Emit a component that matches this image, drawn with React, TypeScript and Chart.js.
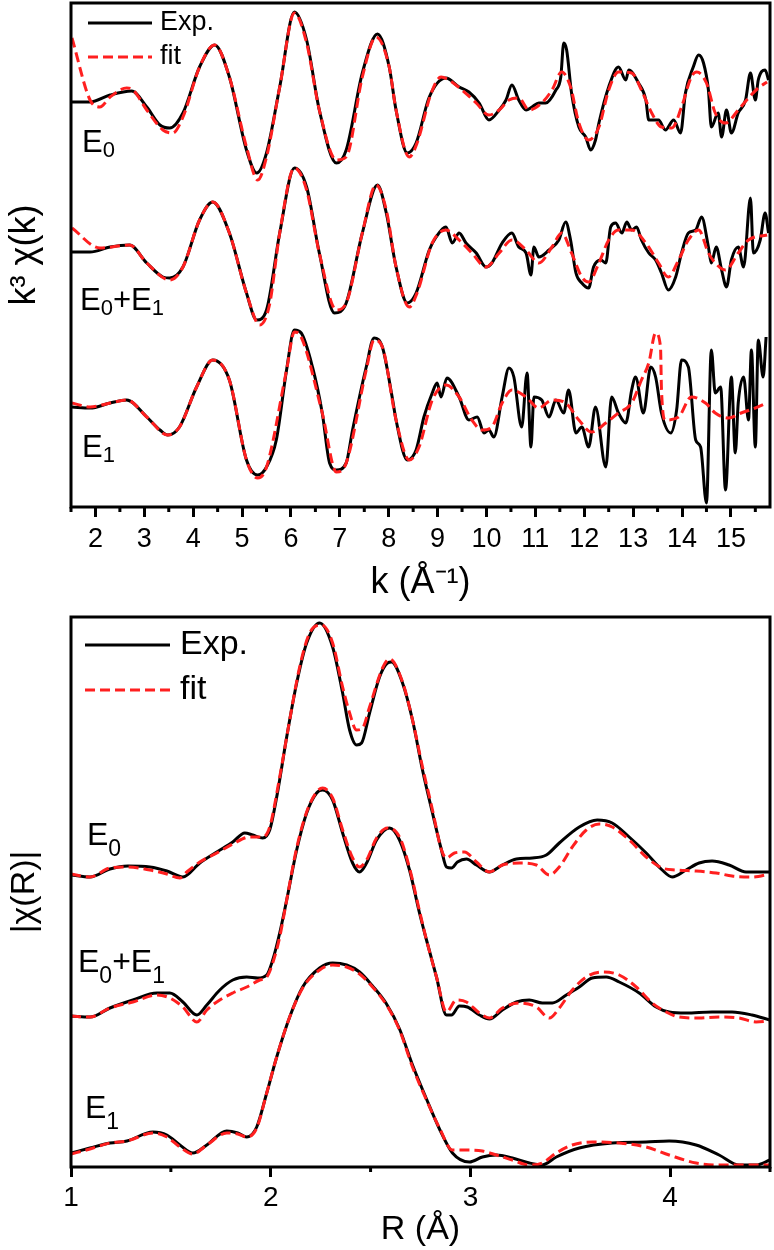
import React, { useEffect, useRef } from "react";
import { Chart, registerables } from "chart.js";

Chart.register(...registerables);

const FONT = "'Liberation Sans', Arial, Helvetica, sans-serif";
const BLACK = "#000000";
const RED = "#ff1f1f";
const SERIES_NAMES = ["Exp.", "fit"];

// ---------------- top panel: k^3 chi(k) ----------------
const K_MIN = 1.5;
const K_MAX = 15.8;
const K_TICKS = [2, 3, 4, 5, 6, 7, 8, 9, 10, 11, 12, 13, 14, 15];
const K_MINOR_TICKS = [1.5, 2.5, 3.5, 4.5, 5.5, 6.5, 7.5, 8.5, 9.5, 10.5, 11.5, 12.5, 13.5, 14.5, 15.5];
const K_Y_MAX = 504;
const K_OFF_E0 = 405;
const K_OFF_E01 = 255;
const K_OFF_E1 = 100;

const K_E0_EXP = [1.5, 1.89, 2.3, 2.74, 3.05, 3.32, 3.52, 3.79, 4.13, 4.44, 4.74, 5.09, 5.3, 5.5, 5.77, 6.07, 6.32, 6.58, 6.93, 7.13, 7.46, 7.77, 8.01, 8.15, 8.38, 8.56, 8.83, 9.17, 9.44, 9.64, 9.85, 10.05, 10.26, 10.4, 10.52, 10.66, 10.81, 10.93, 11.07, 11.21, 11.42, 11.52, 11.58, 11.64, 11.74, 11.89, 12.03, 12.13, 12.23, 12.3, 12.5, 12.7, 12.85, 12.91, 13.11, 13.26, 13.32, 13.52, 13.66, 13.83, 13.97, 14.07, 14.23, 14.34, 14.44, 14.54, 14.6, 14.74, 14.81, 14.91, 15.01, 15.15, 15.3, 15.4, 15.5, 15.56, 15.7, 15.77];
const V_E0_EXP = [0, 0, 7, 11, -5, -23, -26, -11, 35, 57, 25, -48, -71, -51, 15, 90, 62, -8, -61, -48, 29, 68, 35, -8, -51, -41, 5, 24, 15, 10, -1, -18, -8, 2, 17, 2, -8, -5, -1, -1, 12, 25, 59, 52, 9, -25, -35, -48, -38, -21, 15, 35, 22, 32, 19, 2, -18, -18, -28, -18, -31, 9, 35, 47, 39, 12, -25, -11, -35, -8, -31, -11, 2, 29, 2, 22, 32, 22];
const K_E0_FIT = [1.52, 1.89, 2.09, 2.3, 2.64, 2.77, 3.05, 3.38, 3.58, 3.79, 4.13, 4.44, 4.74, 5.09, 5.32, 5.5, 5.77, 6.07, 6.32, 6.58, 6.93, 7.13, 7.46, 7.74, 8.01, 8.15, 8.42, 8.58, 8.87, 9.07, 9.23, 9.5, 9.79, 10.05, 10.26, 10.46, 10.66, 10.87, 11.13, 11.34, 11.54, 11.72, 11.89, 12.09, 12.3, 12.5, 12.7, 12.97, 13.17, 13.38, 13.58, 13.79, 13.99, 14.19, 14.3, 14.5, 14.68, 14.89, 15.15, 15.36, 15.56, 15.74];
const V_E0_FIT = [64, 2, -5, 5, 14, 12, -8, -28, -31, -15, 35, 57, 25, -45, -78, -55, 15, 89, 59, -8, -58, -55, 25, 65, 35, -8, -55, -41, 9, 25, 22, 12, -1, -13, -8, 2, 4, -8, -1, 12, 30, 15, -21, -38, -25, 12, 30, 29, 12, -11, -25, -26, -5, 25, 30, 19, -11, -21, -8, 4, 14, 20];

const K_E01_EXP = [1.5, 1.89, 2.3, 2.7, 3.05, 3.38, 3.52, 3.79, 4.13, 4.4, 4.74, 5.09, 5.3, 5.5, 5.77, 6.07, 6.32, 6.58, 6.89, 7.13, 7.46, 7.77, 7.95, 8.15, 8.38, 8.56, 8.83, 8.97, 9.17, 9.3, 9.44, 9.58, 9.79, 9.99, 10.11, 10.32, 10.52, 10.66, 10.81, 10.91, 10.97, 11.07, 11.28, 11.48, 11.62, 11.72, 11.83, 11.95, 12.09, 12.19, 12.34, 12.44, 12.54, 12.64, 12.77, 12.87, 12.97, 13.07, 13.17, 13.32, 13.46, 13.58, 13.72, 13.87, 13.99, 14.13, 14.28, 14.4, 14.54, 14.6, 14.7, 14.81, 14.91, 15.01, 15.15, 15.26, 15.4, 15.46, 15.6, 15.7, 15.77];
const V_E01_EXP = [0, 0, 5, 7, -11, -25, -26, -15, 32, 50, 19, -41, -68, -58, 19, 84, 65, -1, -61, -51, 19, 67, 39, -15, -51, -41, 2, 15, 25, 9, 19, 9, -1, -15, -11, 9, 19, 5, -1, -23, 5, -5, 2, 12, 30, 12, -21, -31, -36, -15, -8, -11, 25, 29, 19, 30, 22, 25, 12, -1, -8, -21, -38, -25, -1, 19, 22, 35, 5, -11, 5, -18, -35, -8, 5, -15, 54, -1, 12, 39, 19];
const K_E01_FIT = [1.52, 2.09, 2.7, 3.05, 3.52, 3.79, 4.13, 4.4, 4.74, 5.09, 5.36, 5.56, 5.77, 6.07, 6.32, 6.58, 6.93, 7.13, 7.46, 7.74, 7.95, 8.15, 8.42, 8.58, 8.89, 9.17, 9.44, 9.7, 9.99, 10.26, 10.52, 10.81, 11.07, 11.34, 11.54, 11.74, 11.95, 12.09, 12.3, 12.5, 12.7, 12.97, 13.26, 13.52, 13.72, 13.93, 14.13, 14.34, 14.54, 14.68, 14.89, 15.15, 15.36, 15.74];
const V_E01_FIT = [24, 4, 7, -11, -28, -15, 32, 50, 19, -41, -73, -53, 19, 84, 62, -1, -58, -51, 19, 67, 42, -15, -55, -41, 9, 22, 12, -1, -15, -1, 12, 2, -11, 5, 19, -1, -25, -30, -11, 12, 22, 22, 9, -11, -25, -8, 12, 22, -1, -11, -18, -1, 12, 17];

const K_E1_EXP = [1.52, 1.89, 2.3, 2.64, 3.05, 3.32, 3.48, 3.72, 4.07, 4.4, 4.74, 5.09, 5.32, 5.5, 5.7, 5.91, 6.07, 6.21, 6.44, 6.64, 6.79, 6.93, 7.13, 7.26, 7.54, 7.7, 7.87, 8.07, 8.15, 8.38, 8.56, 8.72, 8.89, 8.99, 9.07, 9.19, 9.44, 9.64, 9.81, 9.95, 10.05, 10.15, 10.32, 10.46, 10.56, 10.72, 10.83, 10.91, 10.97, 11.13, 11.28, 11.42, 11.58, 11.68, 11.83, 11.95, 12.09, 12.23, 12.44, 12.56, 12.7, 12.85, 12.97, 13.05, 13.21, 13.36, 13.46, 13.58, 13.77, 13.89, 13.99, 14.13, 14.28, 14.38, 14.5, 14.6, 14.68, 14.79, 14.89, 15.01, 15.09, 15.15, 15.26, 15.36, 15.42, 15.5, 15.56, 15.66, 15.72];
const V_E1_EXP = [0, -1, 4, 7, -10, -23, -28, -20, 20, 47, 27, -53, -68, -60, -33, 37, 77, 74, 40, -6, -56, -63, -56, -23, 40, 69, 60, 10, -13, -53, -43, -10, 14, 24, 10, 29, 10, -13, -10, -26, -23, -30, 10, 39, 30, -20, 34, -40, 10, 7, -10, 7, -6, 17, -26, -20, -40, 0, -60, 10, -6, -16, 17, 30, -6, 40, 30, -6, -26, -3, 47, 40, -33, -40, -96, 57, 14, 20, -83, 30, -46, 4, 30, -13, 57, -40, 67, 30, 70];
const K_E1_FIT = [1.52, 1.89, 2.3, 2.64, 3.05, 3.48, 3.72, 4.07, 4.4, 4.74, 5.09, 5.32, 5.5, 5.91, 6.07, 6.21, 6.64, 6.93, 7.13, 7.54, 7.7, 7.87, 8.15, 8.42, 8.62, 8.89, 9.17, 9.44, 9.7, 9.91, 10.11, 10.32, 10.52, 10.81, 11.07, 11.34, 11.62, 11.89, 12.15, 12.44, 12.7, 12.97, 13.17, 13.32, 13.46, 13.56, 13.58, 13.66, 13.93, 14.19, 14.48, 14.68, 14.95, 15.21, 15.5, 15.74];
const V_E1_FIT = [4, 0, 4, 7, -10, -28, -20, 20, 47, 27, -53, -71, -60, 37, 75, 70, -6, -65, -56, 37, 67, 60, -13, -53, -40, 7, 22, 10, -13, -23, -20, 4, 17, 10, -1, 7, 4, -13, -25, -16, -6, 4, 27, 44, 74, 60, 17, -13, -10, 10, 4, -6, -11, -6, -1, 4];

// ---------------- bottom panel: |chi(R)| ----------------
const R_MIN = 1;
const R_MAX = 4.5;
const R_TICKS = [1, 2, 3, 4];
const R_MINOR_TICKS = [1.5, 2.5, 3.5, 4.5];
const R_Y_MAX = 550;
const R_OFF_E0 = 280;
const R_OFF_E01 = 140;
const R_OFF_E1 = 0;

const R_E0_EXP = [1.0, 1.095, 1.195, 1.285, 1.395, 1.48, 1.56, 1.645, 1.73, 1.81, 1.87, 1.91, 1.96, 1.995, 2.03, 2.08, 2.13, 2.18, 2.245, 2.31, 2.36, 2.395, 2.43, 2.455, 2.495, 2.545, 2.585, 2.605, 2.66, 2.71, 2.76, 2.81, 2.855, 2.88, 2.905, 2.935, 2.98, 3.03, 3.095, 3.16, 3.23, 3.31, 3.38, 3.445, 3.545, 3.635, 3.71, 3.795, 3.88, 3.96, 4.01, 4.08, 4.145, 4.21, 4.295, 4.38, 4.5];
const M_E0_EXP = [12, 10, 18, 21, 20, 16, 10, 24, 35, 45, 54, 52, 49, 57, 90, 150, 204, 244, 264, 240, 194, 157, 142, 144, 174, 210, 224, 225, 204, 167, 117, 74, 37, 20, 19, 25, 28, 22, 15, 22, 28, 29, 32, 44, 60, 67, 64, 50, 34, 17, 10, 17, 24, 26, 22, 15, 15];
const R_E0_FIT = [1.0, 1.095, 1.195, 1.285, 1.395, 1.48, 1.545, 1.58, 1.645, 1.73, 1.81, 1.895, 1.96, 1.995, 2.045, 2.095, 2.145, 2.195, 2.255, 2.31, 2.36, 2.395, 2.43, 2.46, 2.495, 2.56, 2.595, 2.66, 2.71, 2.76, 2.81, 2.855, 2.88, 2.92, 2.97, 3.03, 3.095, 3.16, 3.245, 3.33, 3.395, 3.445, 3.51, 3.58, 3.645, 3.71, 3.795, 3.88, 3.96, 4.03, 4.13, 4.23, 4.31, 4.41, 4.5];
const M_E0_FIT = [13, 10, 19, 20, 17, 13, 9, 15, 25, 34, 43, 50, 50, 60, 110, 167, 220, 254, 262, 244, 200, 174, 157, 159, 180, 219, 228, 205, 167, 120, 77, 37, 29, 34, 35, 25, 15, 22, 24, 22, 12, 20, 40, 57, 63, 60, 47, 30, 19, 17, 16, 14, 11, 10, 13];

const R_E01_EXP = [1.0, 1.095, 1.195, 1.31, 1.43, 1.495, 1.56, 1.63, 1.68, 1.745, 1.81, 1.88, 1.935, 1.98, 2.01, 2.045, 2.08, 2.13, 2.18, 2.23, 2.26, 2.31, 2.36, 2.41, 2.445, 2.48, 2.53, 2.595, 2.645, 2.695, 2.745, 2.78, 2.83, 2.88, 2.905, 2.945, 2.985, 3.045, 3.095, 3.16, 3.23, 3.295, 3.36, 3.41, 3.48, 3.545, 3.61, 3.68, 3.745, 3.845, 3.93, 3.995, 4.08, 4.21, 4.31, 4.41, 4.5];
const M_E01_EXP = [11, 10, 19, 27, 34, 34, 25, 12, 22, 37, 47, 50, 49, 52, 67, 94, 127, 177, 214, 234, 237, 227, 194, 164, 155, 164, 187, 199, 187, 157, 114, 87, 50, 12, 12, 21, 20, 12, 8, 17, 25, 27, 24, 24, 32, 40, 49, 50, 45, 34, 20, 15, 14, 15, 15, 12, 7];
const R_E01_FIT = [1.0, 1.095, 1.195, 1.31, 1.43, 1.495, 1.56, 1.63, 1.68, 1.745, 1.81, 1.88, 1.945, 1.98, 2.01, 2.045, 2.08, 2.13, 2.18, 2.23, 2.26, 2.31, 2.36, 2.41, 2.445, 2.48, 2.53, 2.585, 2.645, 2.695, 2.745, 2.78, 2.83, 2.88, 2.93, 2.98, 3.045, 3.095, 3.16, 3.245, 3.33, 3.395, 3.445, 3.51, 3.58, 3.66, 3.745, 3.83, 3.91, 3.98, 4.045, 4.145, 4.245, 4.345, 4.43, 4.5];
const M_E01_FIT = [11, 10, 19, 25, 32, 29, 20, 5, 17, 27, 34, 40, 47, 50, 64, 90, 127, 179, 215, 235, 239, 229, 197, 169, 160, 167, 189, 199, 190, 159, 116, 87, 50, 15, 27, 25, 14, 9, 19, 24, 20, 9, 19, 37, 50, 55, 52, 40, 24, 15, 10, 9, 10, 9, 5, 6];

const R_E1_EXP = [1.0, 1.095, 1.195, 1.28, 1.41, 1.48, 1.545, 1.61, 1.68, 1.78, 1.835, 1.88, 1.93, 1.98, 2.03, 2.095, 2.16, 2.245, 2.31, 2.38, 2.445, 2.51, 2.58, 2.645, 2.71, 2.78, 2.845, 2.91, 2.995, 3.06, 3.13, 3.21, 3.295, 3.36, 3.43, 3.545, 3.71, 3.88, 3.995, 4.13, 4.245, 4.345, 4.43, 4.5];
const M_E1_EXP = [14, 19, 24, 26, 35, 32, 22, 14, 22, 36, 34, 30, 40, 74, 110, 150, 180, 199, 204, 202, 195, 181, 163, 138, 102, 68, 38, 14, 5, 10, 12, 9, 4, 2, 10, 19, 24, 25, 26, 22, 12, 2, 2, 7];
const R_E1_FIT = [1.0, 1.095, 1.195, 1.28, 1.41, 1.48, 1.545, 1.61, 1.68, 1.78, 1.835, 1.88, 1.93, 1.98, 2.03, 2.095, 2.16, 2.245, 2.31, 2.38, 2.445, 2.51, 2.58, 2.645, 2.71, 2.78, 2.845, 2.91, 2.98, 3.06, 3.13, 3.21, 3.295, 3.36, 3.43, 3.51, 3.61, 3.745, 3.88, 3.995, 4.13, 4.245, 4.38, 4.5];
const M_E1_FIT = [13, 18, 24, 26, 34, 30, 20, 13, 22, 34, 33, 30, 39, 74, 110, 150, 179, 197, 202, 200, 193, 180, 162, 137, 100, 67, 39, 17, 17, 16, 12, 7, 2, 4, 14, 22, 25, 24, 20, 12, 4, 2, 2, 2];

// ---------------- helpers ----------------
type Pt = { x: number; y: number };
const pts = (xs: number[], ys: number[], off: number): Pt[] => {
  const n = Math.min(xs.length, ys.length);
  const out: Pt[] = [];
  for (let i = 0; i < n; i++) out.push({ x: xs[i], y: ys[i] + off });
  return out;
};

const expSet = (data: Pt[]) => ({
  label: SERIES_NAMES[0],
  data,
  borderColor: BLACK,
  borderWidth: 3,
  pointRadius: 0,
  fill: false,
  tension: 0.4,
  cubicInterpolationMode: "monotone" as const,
  order: 1,
});
const fitSet = (data: Pt[]) => ({
  label: SERIES_NAMES[1],
  data,
  borderColor: RED,
  borderWidth: 3,
  borderDash: [10, 5],
  pointRadius: 0,
  fill: false,
  tension: 0.4,
  cubicInterpolationMode: "monotone" as const,
  order: 0,
});

interface LabelSpec {
  parts: { t: string; sub?: boolean }[];
  dx: number;
  dy: number;
}
interface DecorSpec {
  minor: number[];
  minorLen: number;
  labels: LabelSpec[];
  labelSize: number;
  subSize: number;
  subShift: number;
  legendX0: number;
  legendX1: number;
  legendTextX: number;
  legendRows: number[];
  legendSize: number;
}

const makeDecor = (d: DecorSpec) => ({
  id: "decor",
  afterDraw(chart: any) {
    const { ctx, chartArea: a } = chart;
    const xs = chart.scales.x;
    ctx.save();
    ctx.setLineDash([]);
    ctx.strokeStyle = BLACK;
    ctx.lineWidth = 3;
    ctx.strokeRect(a.left, a.top, a.right - a.left, a.bottom - a.top);
    ctx.beginPath();
    for (const v of d.minor) {
      const px = xs.getPixelForValue(v);
      ctx.moveTo(px, a.bottom);
      ctx.lineTo(px, a.bottom + d.minorLen);
    }
    ctx.stroke();

    ctx.fillStyle = BLACK;
    ctx.textAlign = "left";
    ctx.textBaseline = "alphabetic";
    for (const l of d.labels) {
      let x = a.left + l.dx;
      const y = a.top + l.dy;
      for (const p of l.parts) {
        ctx.font = `${p.sub ? d.subSize : d.labelSize}px ${FONT}`;
        ctx.fillText(p.t, x, p.sub ? y + d.subShift : y);
        x += ctx.measureText(p.t).width;
      }
    }

    const styles = [
      { c: BLACK, dash: [] as number[] },
      { c: RED, dash: [10, 5] },
    ];
    ctx.textBaseline = "middle";
    ctx.font = `${d.legendSize}px ${FONT}`;
    SERIES_NAMES.forEach((name, i) => {
      const y = a.top + d.legendRows[i];
      ctx.beginPath();
      ctx.strokeStyle = styles[i].c;
      ctx.lineWidth = 3;
      ctx.setLineDash(styles[i].dash);
      ctx.moveTo(a.left + d.legendX0, y);
      ctx.lineTo(a.left + d.legendX1, y);
      ctx.stroke();
      ctx.setLineDash([]);
      ctx.fillStyle = BLACK;
      ctx.fillText(name, a.left + d.legendTextX, y);
    });
    ctx.restore();
  },
});

interface PanelSpec {
  datasets: any[];
  xMin: number;
  xMax: number;
  ticks: number[];
  yMax: number;
  xTitle: string;
  yTitle: string;
  tickSize: number;
  tickPad: number;
  titleSize: number;
  xTitlePad: number;
  yTitlePad: number;
  xAxisHeight: number;
  yAxisWidth: number;
  padTop: number;
  padRight: number;
  decor: DecorSpec;
}

const panelConfig = (p: PanelSpec): any => ({
  type: "line",
  data: { datasets: p.datasets },
  options: {
    animation: false,
    responsive: false,
    maintainAspectRatio: false,
    events: [],
    layout: { padding: { top: p.padTop, right: p.padRight, left: 0, bottom: 0 } },
    plugins: { legend: { display: false }, tooltip: { enabled: false }, title: { display: false } },
    scales: {
      x: {
        type: "linear",
        min: p.xMin,
        max: p.xMax,
        afterBuildTicks: (s: any) => {
          s.ticks = p.ticks.map((v) => ({ value: v }));
        },
        afterFit: (s: any) => {
          s.height = p.xAxisHeight;
        },
        grid: {
          display: true,
          drawOnChartArea: false,
          drawTicks: true,
          tickLength: 10,
          tickWidth: 3,
          tickColor: BLACK,
        },
        border: { display: false },
        ticks: {
          color: BLACK,
          font: { family: FONT, size: p.tickSize },
          padding: p.tickPad,
          maxRotation: 0,
          autoSkip: false,
          callback: (v: any) => String(v),
        },
        title: {
          display: true,
          text: p.xTitle,
          color: BLACK,
          font: { family: FONT, size: p.titleSize },
          padding: { top: 0, bottom: p.xTitlePad },
        },
      },
      y: {
        type: "linear",
        min: 0,
        max: p.yMax,
        afterFit: (s: any) => {
          s.width = p.yAxisWidth;
        },
        grid: { display: false },
        border: { display: false },
        ticks: { display: false },
        title: {
          display: true,
          text: p.yTitle,
          color: BLACK,
          font: { family: FONT, size: p.titleSize },
          padding: { top: p.yTitlePad, bottom: 0 },
        },
      },
    },
  },
  plugins: [makeDecor(p.decor)],
});

const topConfig = () =>
  panelConfig({
    datasets: [
      expSet(pts(K_E0_EXP, V_E0_EXP, K_OFF_E0)),
      fitSet(pts(K_E0_FIT, V_E0_FIT, K_OFF_E0)),
      expSet(pts(K_E01_EXP, V_E01_EXP, K_OFF_E01)),
      fitSet(pts(K_E01_FIT, V_E01_FIT, K_OFF_E01)),
      expSet(pts(K_E1_EXP, V_E1_EXP, K_OFF_E1)),
      fitSet(pts(K_E1_FIT, V_E1_FIT, K_OFF_E1)),
    ],
    xMin: K_MIN,
    xMax: K_MAX,
    ticks: K_TICKS,
    yMax: K_Y_MAX,
    xTitle: "k (Å⁻¹)",
    yTitle: "k³ χ(k)",
    tickSize: 27,
    tickPad: 6,
    titleSize: 36,
    xTitlePad: 7,
    yTitlePad: 3,
    xAxisHeight: 105,
    yAxisWidth: 71,
    padTop: 3,
    padRight: 4,
    decor: {
      minor: K_MINOR_TICKS,
      minorLen: 5,
      labels: [
        { parts: [{ t: "E" }, { t: "0", sub: true }], dx: 11, dy: 149 },
        { parts: [{ t: "E" }, { t: "0", sub: true }, { t: "+E" }, { t: "1", sub: true }], dx: 9, dy: 307 },
        { parts: [{ t: "E" }, { t: "1", sub: true }], dx: 11, dy: 454 },
      ],
      labelSize: 31,
      subSize: 22,
      subShift: 5,
      legendX0: 17,
      legendX1: 81,
      legendTextX: 89,
      legendRows: [20, 54],
      legendSize: 27,
    },
  });

const bottomConfig = () =>
  panelConfig({
    datasets: [
      expSet(pts(R_E0_EXP, M_E0_EXP, R_OFF_E0)),
      fitSet(pts(R_E0_FIT, M_E0_FIT, R_OFF_E0)),
      expSet(pts(R_E01_EXP, M_E01_EXP, R_OFF_E01)),
      fitSet(pts(R_E01_FIT, M_E01_FIT, R_OFF_E01)),
      expSet(pts(R_E1_EXP, M_E1_EXP, R_OFF_E1)),
      fitSet(pts(R_E1_FIT, M_E1_FIT, R_OFF_E1)),
    ],
    xMin: R_MIN,
    xMax: R_MAX,
    ticks: R_TICKS,
    yMax: R_Y_MAX,
    xTitle: "R (Å)",
    yTitle: "|χ(R)|",
    tickSize: 28,
    tickPad: 4,
    titleSize: 34,
    xTitlePad: 0,
    yTitlePad: 4,
    xAxisHeight: 83,
    yAxisWidth: 71,
    padTop: 5,
    padRight: 4,
    decor: {
      minor: R_MINOR_TICKS,
      minorLen: 5,
      labels: [
        { parts: [{ t: "E" }, { t: "0", sub: true }], dx: 16, dy: 228 },
        { parts: [{ t: "E" }, { t: "0", sub: true }, { t: "+E" }, { t: "1", sub: true }], dx: 7, dy: 355 },
        { parts: [{ t: "E" }, { t: "1", sub: true }], dx: 14, dy: 501 },
      ],
      labelSize: 32,
      subSize: 23,
      subShift: 11,
      legendX0: 14,
      legendX1: 99,
      legendTextX: 109,
      legendRows: [28, 73],
      legendSize: 34,
    },
  });

export default function App() {
  const topRef = useRef<HTMLCanvasElement>(null);
  const botRef = useRef<HTMLCanvasElement>(null);

  useEffect(() => {
    const charts: Chart[] = [];
    if (topRef.current) charts.push(new Chart(topRef.current, topConfig()));
    if (botRef.current) charts.push(new Chart(botRef.current, bottomConfig()));
    return () => {
      charts.forEach((c) => c.destroy());
    };
  }, []);

  return (
    <div style={{ position: "absolute", left: 0, top: 0, width: 774, height: 1250, background: "#ffffff" }}>
      <canvas
        ref={topRef}
        width={774}
        height={612}
        style={{ position: "absolute", left: 0, top: 0, width: 774, height: 612 }}
      />
      <canvas
        ref={botRef}
        width={774}
        height={638}
        style={{ position: "absolute", left: 0, top: 612, width: 774, height: 638 }}
      />
    </div>
  );
}
